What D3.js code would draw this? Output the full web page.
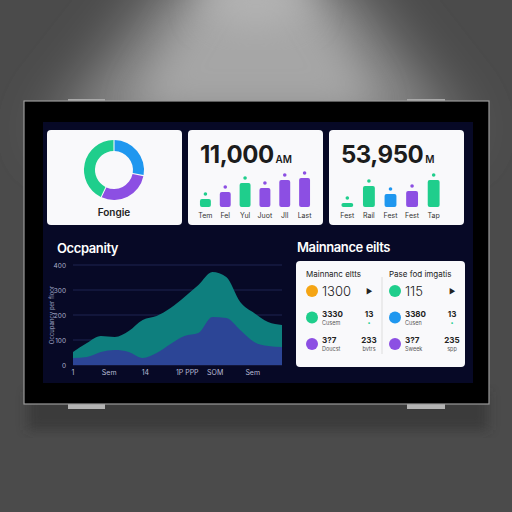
<!DOCTYPE html>
<html><head><meta charset="utf-8">
<script src="https://cdn.jsdelivr.net/npm/d3@7"></script>
<style>html,body{margin:0;padding:0;background:#4a4a4a;}svg{display:block;}</style>
</head><body><svg id="c" width="512" height="512"></svg>
<script>
// ---- data ----
const donutLabels = ["Blue", "Purple", "Green"];
const donutValues = [28, 29, 43];
const kpi1Value = "11,000";
const kpi1Unit = "AM";
const kpi1Cats = ["Tem", "Fel", "Yul", "Juot", "Jll", "Last"];
const kpi1Vals = [8, 15, 24, 19, 27, 29];
const kpi1Cols = ["g", "p", "g", "p", "p", "p"];
const kpi2Value = "53,950";
const kpi2Unit = "M";
const kpi2Cats = ["Fest", "Rail", "Fest", "Fest", "Tap"];
const kpi2Vals = [4, 21, 13, 16, 27];
const kpi2Cols = ["g", "g", "b", "p", "g"];
const occIndex = [0,1,2,3,4,5,6,7,8,9,10,11,12,13,14,15];
const occTop = [52,88,116,112,136,180,196,228,272,320,372,352,252,208,172,160];
const occLow = [28,32,52,60,52,28,48,84,116,128,192,188,140,92,76,72];
const occYTicks = [0,100,200,300,400];
const occXTickPos = [0,2.6,5.2,8.2,10.2,12.9];
const occXTickLabels = ["1","Sem","14","1P PPP","SOM","Sem"];
const mLeft = [
  {c:"o", big:"1300", sub:"", right:"▶", rsub:""},
  {c:"g", big:"3330", sub:"Cusem", right:"13", rsub:"•"},
  {c:"p", big:"3?7", sub:"Doucst", right:"233", rsub:"bvtrs"}
];
const mRight = [
  {c:"g", big:"115", sub:"", right:"▶", rsub:""},
  {c:"b", big:"3380", sub:"Cusen", right:"13", rsub:"•"},
  {c:"p", big:"3?7", sub:"Sweek", right:"235", rsub:"spp"}
];
const COL = {g:"#1fce8c", p:"#8c4fe3", b:"#1f97ef", o:"#f5a514"};
const FONT = "Inter, 'Noto Sans', sans-serif";

const svg = d3.select("#c");
const defs = svg.append("defs");
// background wall with a cone of light
const blurBig = defs.append("filter").attr("id","bb").attr("x","-50%").attr("y","-50%").attr("width","200%").attr("height","200%");
blurBig.append("feGaussianBlur").attr("stdDeviation",28);
const blurMid = defs.append("filter").attr("id","bm").attr("x","-50%").attr("y","-50%").attr("width","200%").attr("height","200%");
blurMid.append("feGaussianBlur").attr("stdDeviation",18);
svg.append("rect").attr("width",512).attr("height",512).attr("fill","#4b4b4b");
svg.append("path").attr("d","M175,-30 L337,-30 L470,140 L42,140 Z").attr("fill","#8a8a8a").attr("filter","url(#bb)");
svg.append("path").attr("d","M215,-30 L297,-30 L380,110 L132,110 Z").attr("fill","#a6a6a6").attr("filter","url(#bm)");
svg.append("ellipse").attr("cx",256).attr("cy",0).attr("rx",50).attr("ry",25).attr("fill","#b4b4b4").attr("filter","url(#bm)");
const sh = defs.append("filter").attr("id","blur").attr("x","-20%").attr("y","-20%").attr("width","140%").attr("height","140%");
sh.append("feGaussianBlur").attr("stdDeviation",6);
svg.append("rect").attr("x",28).attr("y",392).attr("width",460).attr("height",38).attr("fill","#2e2e2e").attr("opacity",0.55).attr("filter","url(#blur)");

// brackets
[[68,105],[407,445]].forEach(([a,b])=>{
  svg.append("rect").attr("x",a).attr("y",99).attr("width",b-a).attr("height",4).attr("fill","#a9a9a9");
  svg.append("rect").attr("x",a).attr("y",402).attr("width",b-a).attr("height",7).attr("fill","#b3b3b3");
});
// monitor
svg.append("rect").attr("x",24).attr("y",101).attr("width",465).attr("height",303).attr("fill","#000").attr("stroke","#9a9a9a").attr("stroke-width",1.2);
svg.append("rect").attr("x",43).attr("y",122).attr("width",430).attr("height",261).attr("fill","#070926");

// card helper
function card(x,y,w,h){ return svg.append("rect").attr("x",x).attr("y",y).attr("width",w).attr("height",h).attr("rx",4).attr("fill","#f9f9fb"); }

// ---- Card 1: donut ----
card(47,130,135,95);
const pie = d3.pie().sort(null).value(d=>d)(donutValues);
const arc = d3.arc().innerRadius(19).outerRadius(30).padAngle(0.03);
const dcol = [COL.b, COL.p, COL.g];
svg.append("g").attr("transform","translate(114,170)").selectAll("path").data(pie).join("path")
  .attr("d",arc).attr("fill",(d,i)=>dcol[i]);
svg.append("text").attr("x",114).attr("y",216).attr("text-anchor","middle").attr("font-family",FONT)
  .attr("font-size",10).attr("font-weight",600).attr("fill","#222").text("Fongie");

// ---- KPI cards ----
function kpi(x0, val, unit, cats, vals, cols, barX0, barX1){
  card(x0,130,135,95);
  const t = svg.append("text").attr("x",x0+12).attr("y",163).attr("font-family",FONT).attr("fill","#1c1c1c");
  t.append("tspan").attr("font-size",24).attr("font-weight",700).attr("letter-spacing",-0.5).text(val);
  t.append("tspan").attr("font-size",10).attr("font-weight",600).attr("dx",2).text(unit);
  const xs = d3.scaleBand().domain(d3.range(cats.length)).range([barX0,barX1]).paddingInner(0.45).paddingOuter(0.25);
  const ys = d3.scaleLinear().domain([0,30]).range([207,177]);
  const g = svg.append("g");
  g.selectAll("rect").data(vals).join("rect")
    .attr("x",(d,i)=>xs(i)).attr("width",xs.bandwidth()).attr("y",d=>ys(d)).attr("height",d=>207-ys(d))
    .attr("rx",2).attr("fill",(d,i)=>COL[cols[i]]);
  g.selectAll("circle").data(vals).join("circle")
    .attr("cx",(d,i)=>xs(i)+xs.bandwidth()/2).attr("cy",d=>ys(d)-5).attr("r",1.8).attr("fill",(d,i)=>COL[cols[i]]);
  g.selectAll("text").data(cats).join("text")
    .attr("x",(d,i)=>xs(i)+xs.bandwidth()/2).attr("y",218).attr("text-anchor","middle")
    .attr("font-family",FONT).attr("font-size",7).attr("fill","#333").text(d=>d);
}
kpi(188, kpi1Value, kpi1Unit, kpi1Cats, kpi1Vals, kpi1Cols, 195, 315);
kpi(329, kpi2Value, kpi2Unit, kpi2Cats, kpi2Vals, kpi2Cols, 336, 445);

// ---- Occupancy ----
svg.append("text").attr("x",57).attr("y",253).attr("font-family",FONT).attr("font-size",13).attr("font-weight",600)
  .attr("fill","#fff").attr("letter-spacing",-0.4).text("Occpanity");
const ox = d3.scaleLinear().domain([0,15]).range([73,282]);
const oy = d3.scaleLinear().domain([0,400]).range([365,265]);
const og = svg.append("g");
og.selectAll("line").data(occYTicks).join("line").attr("x1",73).attr("x2",282)
  .attr("y1",d=>oy(d)).attr("y2",d=>oy(d)).attr("stroke","#1f2550").attr("stroke-width",1);
og.selectAll("text.yt").data(occYTicks).join("text").attr("class","yt").attr("x",66).attr("y",d=>oy(d)+3)
  .attr("text-anchor","end").attr("font-family",FONT).attr("font-size",6.5).attr("fill","#a9aecb").text(d=>d);
const area = (vals)=>d3.area().x((d,i)=>ox(occIndex[i])).y0(oy(0)).y1(d=>oy(d)).curve(d3.curveMonotoneX)(vals);
og.append("path").attr("d",area(occTop)).attr("fill","#0e7f7e");
og.append("path").attr("d",area(occLow)).attr("fill","#2c4596");
occXTickPos.forEach((p,i)=>{
  og.append("text").attr("x",ox(p)).attr("y",375).attr("text-anchor","middle").attr("font-family",FONT)
    .attr("font-size",7).attr("fill","#b8bcd6").text(occXTickLabels[i]);
});
svg.append("text").attr("transform","translate(54,315) rotate(-90)").attr("text-anchor","middle")
  .attr("font-family",FONT).attr("font-size",6).attr("fill","#9ea3c2").text("Occupancy per floor");

// ---- Maintenance ----
svg.append("text").attr("x",297).attr("y",252).attr("font-family",FONT).attr("font-size",13).attr("font-weight",600)
  .attr("fill","#fff").attr("letter-spacing",-0.4).text("Mainnance eilts");
card(296,261,169,106);
svg.append("line").attr("x1",382).attr("x2",382).attr("y1",277).attr("y2",354).attr("stroke","#ddd");
function mcol(x0, header, rows){
  svg.append("text").attr("x",x0).attr("y",277).attr("font-family",FONT).attr("font-size",8).attr("fill","#222").text(header);
  const rowY = d3.scalePoint().domain(d3.range(rows.length)).range([291,344]);
  rows.forEach((r,i)=>{
    const y = rowY(i);
    svg.append("circle").attr("cx",x0+6).attr("cy",y).attr("r",6).attr("fill",COL[r.c]);
    if(i===0){
      svg.append("text").attr("x",x0+16).attr("y",y+5).attr("font-family",FONT).attr("font-size",13)
        .attr("font-weight",300).attr("fill","#222").text(r.big);
      svg.append("text").attr("x",x0+60).attr("y",y+3).attr("font-family",FONT).attr("font-size",7).attr("fill","#222").text(r.right);
    } else {
      svg.append("text").attr("x",x0+16).attr("y",y-1).attr("font-family",FONT).attr("font-size",8)
        .attr("font-weight",700).attr("fill","#222").text(r.big);
      svg.append("text").attr("x",x0+16).attr("y",y+7).attr("font-family",FONT).attr("font-size",5.5).attr("fill","#555").text(r.sub);
      svg.append("text").attr("x",x0+63).attr("y",y-1).attr("text-anchor","middle").attr("font-family",FONT).attr("font-size",8)
        .attr("font-weight",700).attr("fill","#222").text(r.right);
      svg.append("text").attr("x",x0+63).attr("y",y+7).attr("text-anchor","middle").attr("font-family",FONT).attr("font-size",5.5)
        .attr("fill", r.rsub==="•" ? COL.g : "#555").text(r.rsub);
    }
  });
}
mcol(306, "Mainnanc eltts", mLeft);
mcol(389, "Pase fod imgatis", mRight);
</script></body></html>
